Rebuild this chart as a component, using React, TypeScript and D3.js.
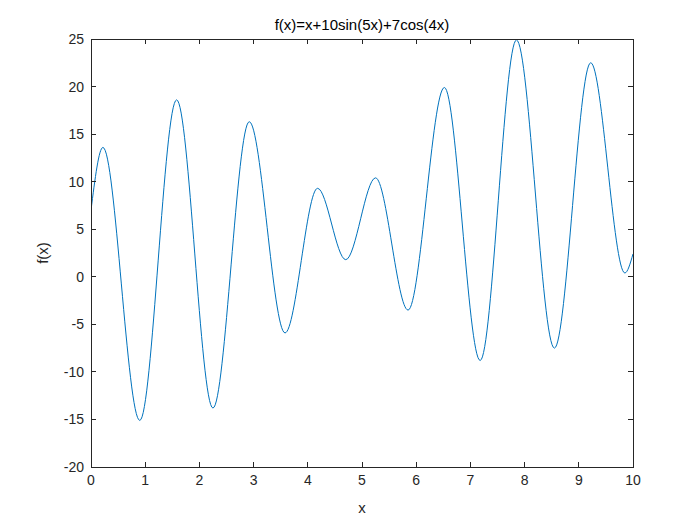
import React from 'react';
import * as d3 from 'd3';

// points (start, extrema, end)
const xs = [0, 0.22, 0.9, 1.58, 2.25, 2.92, 3.58, 4.18, 4.7, 5.25, 5.85, 6.52, 7.18, 7.85, 8.55, 9.22, 9.85, 10];
const ys = [7, 13.6, -15.1, 18.6, -13.8, 16.3, -5.9, 9.3, 1.8, 10.4, -3.5, 19.9, -8.8, 24.9, -7.5, 22.5, 0.4, 2.4];
const xTicks = [0, 1, 2, 3, 4, 5, 6, 7, 8, 9, 10];
const yTicks = [-20, -15, -10, -5, 0, 5, 10, 15, 20, 25];

const W = 700, H = 525;
const m = { left: 91, right: 67, top: 39, bottom: 58 };

export default function App() {
  const x = d3.scaleLinear().domain([0, 10]).range([m.left, W - m.right]);
  const y = d3.scaleLinear().domain([-20, 25]).range([H - m.bottom, m.top]);
  const pts: [number, number][] = xs.map((v, i) => [v, ys[i]]);
  const line = d3.line<[number, number]>().x(d => x(d[0])).y(d => y(d[1])).curve(d3.curveMonotoneX);
  const font = 'Liberation Sans, Arial, sans-serif';
  const axis = '#262626';
  const tl = 5;
  return (
    <div style={{ position: 'fixed', left: 0, top: 0 }}>
      <svg width={W} height={H} style={{ display: 'block', background: '#fff' }} fontFamily={font}>
        <defs>
          <clipPath id="c"><rect x={m.left} y={m.top} width={W - m.left - m.right} height={H - m.top - m.bottom} /></clipPath>
        </defs>
        <path d={line(pts) || ''} fill="none" stroke="#0072BD" strokeWidth={1} clipPath="url(#c)" />
        <rect x={m.left} y={m.top} width={W - m.left - m.right} height={H - m.top - m.bottom} fill="none" stroke={axis} strokeWidth={1} shapeRendering="crispEdges" />
        {xTicks.map(t => (
          <g key={'x' + t}>
            <line x1={x(t)} x2={x(t)} y1={H - m.bottom} y2={H - m.bottom - tl} stroke={axis} shapeRendering="crispEdges" />
            <line x1={x(t)} x2={x(t)} y1={m.top} y2={m.top + tl} stroke={axis} shapeRendering="crispEdges" />
            <text x={x(t)} y={H - m.bottom + 18} textAnchor="middle" fontSize={14} fill={axis}>{t}</text>
          </g>
        ))}
        {yTicks.map(t => (
          <g key={'y' + t}>
            <line x1={m.left} x2={m.left + tl} y1={y(t)} y2={y(t)} stroke={axis} shapeRendering="crispEdges" />
            <line x1={W - m.right} x2={W - m.right - tl} y1={y(t)} y2={y(t)} stroke={axis} shapeRendering="crispEdges" />
            <text x={m.left - 7} y={y(t) + 5} textAnchor="end" fontSize={14} fill={axis}>{t}</text>
          </g>
        ))}
        <text x={(m.left + W - m.right) / 2} y={H - 12} textAnchor="middle" fontSize={15} fill={axis}>x</text>
        <text transform={`translate(48,${(m.top + H - m.bottom) / 2}) rotate(-90)`} textAnchor="middle" fontSize={15} fill={axis}>f(x)</text>
        <text x={(m.left + W - m.right) / 2} y={30} textAnchor="middle" fontSize={15} fill="#000">f(x)=x+10sin(5x)+7cos(4x)</text>
      </svg>
    </div>
  );
}
